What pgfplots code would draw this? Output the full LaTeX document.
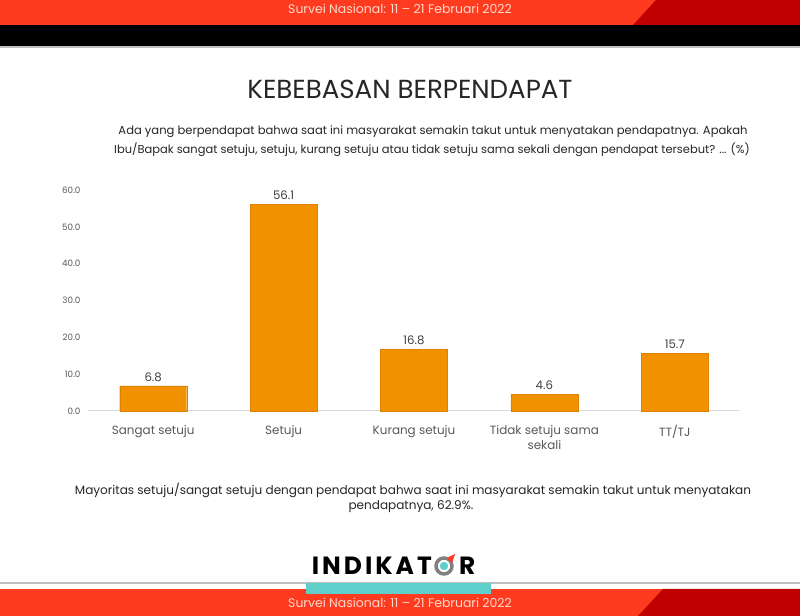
\documentclass[border=0pt]{standalone}
\usepackage{fontspec}
\setmainfont{Poppins}
\newfontfamily\logofont{Poppins}[LetterSpace=12]
\usepackage{pgfplots}
\pgfplotsset{compat=1.18}
\definecolor{barorange}{HTML}{F39200}
\definecolor{topred}{HTML}{FF3B1F}
\definecolor{darkred}{HTML}{C00000}
\definecolor{teal}{HTML}{5FCFCB}
\definecolor{txtdark}{HTML}{262626}
\definecolor{tickgray}{HTML}{595959}
\definecolor{valgray}{HTML}{404040}
\definecolor{axisgray}{HTML}{D9D9D9}
\definecolor{linegray}{HTML}{BFBFBF}
\definecolor{hdrtext}{HTML}{FFD9CC}
\begin{document}
\begin{tikzpicture}[x=1bp,y=1bp]
\path[use as bounding box] (0,0) rectangle (800,616);
\fill[white] (0,0) rectangle (800,616);
% top band
\fill[topred] (0,616) rectangle (800,591);
\fill[darkred] (656,616) -- (800,616) -- (800,591) -- (633,591) -- cycle;
\node[text=hdrtext] at (400,607) {\fontsize{12.5}{14}\selectfont Survei Nasional: 11 -- 21 Februari 2022};
\fill[black] (0,591) rectangle (800,570);
\fill[linegray] (0,570) rectangle (800,568);
% title
\node[text=txtdark] at (410,527) {\fontsize{26.2}{30}\selectfont KEBEBASAN BERPENDAPAT};
\node[text=txtdark] at (433,484) {\fontsize{11.6}{14}\selectfont Ada yang berpendapat bahwa saat ini masyarakat semakin takut untuk menyatakan pendapatnya. Apakah};
\node[text=txtdark] at (432,466) {\fontsize{11.5}{14}\selectfont Ibu/Bapak sangat setuju, setuju, kurang setuju atau tidak setuju sama sekali dengan pendapat tersebut? ... (\%)};
\coordinate (A) at (88,205);
% chart
\begin{axis}[
  at={(A)}, anchor=south west,
  scale only axis, width=652bp, height=221bp,
  ymin=0, ymax=60, xmin=-0.5, xmax=4.5,
  ybar, bar width=67bp,
  xtick=data,
  xticklabels={Sangat setuju, Setuju, Kurang setuju, {Tidak setuju sama\\sekali}, TT/TJ},
  ytick={0,10,20,30,40,50,60},
  axis lines*=left,
  y axis line style={draw=none},
  x axis line style={draw=axisgray, line width=1bp},
  major tick length=0pt,
  xticklabel style={align=center, font=\fontsize{12}{15}\selectfont, text=tickgray, yshift=-11bp},
  yticklabel style={font=\fontsize{8.8}{10}\selectfont, text=tickgray, xshift=-4bp,
    /pgf/number format/fixed, /pgf/number format/fixed zerofill,
    /pgf/number format/precision=1, /pgf/number format/assume math mode=true},
  nodes near coords,
  nodes near coords style={font=\fontsize{11.8}{14}\selectfont, text=valgray, yshift=1bp,
    /pgf/number format/fixed, /pgf/number format/fixed zerofill,
    /pgf/number format/precision=1, /pgf/number format/assume math mode=true},
  clip=false,
]
\addplot[fill=barorange, draw=barorange!90!black, line width=0.4bp]
  coordinates {(0,6.8) (1,56.1) (2,16.8) (3,4.6) (4,15.7)};
\end{axis}
% footnote
\node[text=txtdark] at (413,126) {\fontsize{12.1}{14}\selectfont Mayoritas setuju/sangat setuju dengan pendapat bahwa saat ini masyarakat semakin takut untuk menyatakan};
\node[text=txtdark] at (411,109) {\fontsize{12.1}{14}\selectfont pendapatnya, 62.9\%.};
% logo
\node[anchor=east, inner sep=0pt, text=black] at (432,50) {\logofont\bfseries\fontsize{25}{27}\selectfont INDIKAT};
\draw[gray, line width=3.5bp] (444,50) circle (8);
\fill[teal] (444,50) circle (4.2);
\fill[topred] (447,58) -- (455,62) -- (452,53) -- cycle;
\node[anchor=west, inner sep=0pt, text=black] at (459,50) {\logofont\bfseries\fontsize{25}{27}\selectfont R};
% bottom
\fill[linegray] (0,34) rectangle (800,32);
\fill[topred] (0,0) rectangle (800,27);
\fill[darkred] (663,27) -- (800,27) -- (800,0) -- (638,0) -- cycle;
\fill[teal] (306,33) rectangle (491,22);
\node[text=hdrtext] at (400,13) {\fontsize{12.5}{14}\selectfont Survei Nasional: 11 -- 21 Februari 2022};
\end{tikzpicture}
\end{document}
